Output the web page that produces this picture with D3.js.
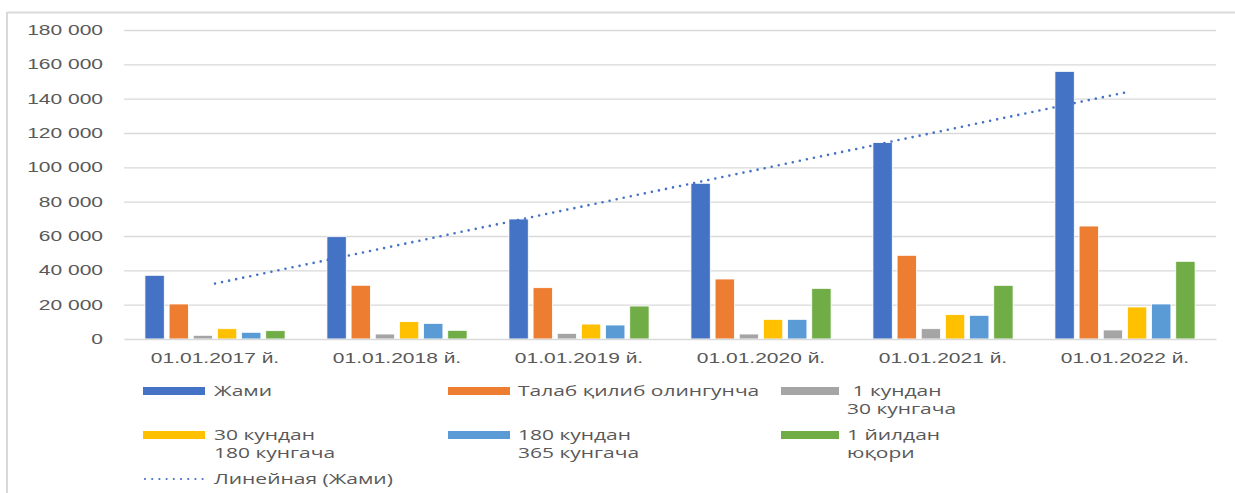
<!DOCTYPE html>
<html>
<head>
<meta charset="utf-8">
<script src="https://cdn.jsdelivr.net/npm/d3@7"></script>
<style>
  html, body { margin: 0; padding: 0; background: #fff; }
  svg { display: block; font-family: "Open Sans", "Liberation Sans", sans-serif; }
  text { fill: #595959; white-space: pre; }
</style>
</head>
<body>
<svg id="chart" width="1235" height="493"></svg>
<script>
// Deposits by maturity (values in the chart's units)
const categories = ["01.01.2017 й.", "01.01.2018 й.", "01.01.2019 й.", "01.01.2020 й.", "01.01.2021 й.", "01.01.2022 й."];
const seriesNames = ["Жами", "Талаб қилиб олингунча", " 1 кундан\n30 кунгача", "30 кундан\n180 кунгача", "180 кундан\n365 кунгача", "1 йилдан\nюқори"];
const total      = [37100, 59600, 69900, 90700, 114400, 155900];
const onDemand   = [20400, 31300, 29900, 34950, 48750, 65800];
const d1to30     = [2150, 2900, 3300, 2900, 6000, 5250];
const d30to180   = [6000, 10100, 8700, 11450, 14200, 18650];
const d180to365  = [3900, 9100, 8150, 11450, 13800, 20400];
const over1year  = [4850, 5050, 19200, 29500, 31250, 45250];
const yTicks = [0, 20000, 40000, 60000, 80000, 100000, 120000, 140000, 160000, 180000];
const trendName = "Линейная (Жами)";

const seriesValues = [total, onDemand, d1to30, d30to180, d180to365, over1year];
const colors = ["#4472C4", "#ED7D31", "#A5A5A5", "#FFC000", "#5B9BD5", "#70AD47"];

const SX = 1.5;           // horizontal text stretch
const FONT = 14;
const svg = d3.select("#chart");

// chart frame (top and left edges)
svg.append("line").attr("x1", 7).attr("x2", 1235).attr("y1", 12.5).attr("y2", 12.5)
  .attr("stroke", "#d9d9d9").attr("stroke-width", 2);
svg.append("line").attr("x1", 7).attr("x2", 7).attr("y1", 12).attr("y2", 493)
  .attr("stroke", "#d9d9d9").attr("stroke-width", 2);

const plotL = 124, plotR = 1216, plotT = 30, plotB = 339;

const x = d3.scaleBand().domain(categories).range([plotL, plotR])
  .paddingInner(0.23).paddingOuter(0.115);
const xs = d3.scaleBand().domain(d3.range(seriesValues.length)).range([0, x.bandwidth()])
  .paddingInner(0.2).paddingOuter(0);
const y = d3.scaleLinear().domain([0, 180000]).range([plotB, plotT]);

const fmt = d3.formatLocale({ thousands: " ", grouping: [3], decimal: ",", currency: ["", ""] }).format(",d");

// gridlines
const grid = svg.append("g").attr("transform", `translate(${plotL},0)`)
  .call(d3.axisLeft(y).tickValues(yTicks.filter(v => v > 0)).tickSize(-(plotR - plotL)).tickFormat(""));
grid.select(".domain").remove();
grid.selectAll("line").attr("stroke", "#d9d9d9").attr("stroke-width", 1.3);

// y axis labels
const yAxis = svg.append("g").attr("transform", `translate(${plotL},0)`)
  .call(d3.axisLeft(y).tickValues(yTicks).tickSize(0).tickPadding(14).tickFormat(fmt));
yAxis.select(".domain").remove();
yAxis.selectAll("text")
  .attr("font-family", null).attr("font-size", FONT).attr("fill", "#595959")
  .attr("transform", `scale(${SX},1)`);

// bars
const groups = svg.append("g").selectAll("g").data(categories).join("g")
  .attr("transform", d => `translate(${x(d)},0)`);
groups.selectAll("rect")
  .data((c, ci) => seriesValues.map((vals, si) => ({ si, v: vals[ci] })))
  .join("rect")
  .attr("x", d => xs(d.si))
  .attr("width", xs.bandwidth())
  .attr("y", d => y(d.v))
  .attr("height", d => y(0) - y(d.v))
  .attr("fill", d => colors[d.si])
  .attr("stroke", "#fff").attr("stroke-width", 0.8);

// x axis
const xAxis = svg.append("g").attr("transform", `translate(0,${plotB})`)
  .call(d3.axisBottom(x).tickSize(0).tickSizeOuter(0).tickPadding(14));
xAxis.select(".domain").attr("stroke", "#d9d9d9").attr("stroke-width", 1.3);
xAxis.selectAll("text")
  .attr("font-family", null).attr("font-size", FONT).attr("fill", "#595959")
  .attr("transform", `scale(${SX},1)`);

// linear trend of the total series
const n = total.length;
const xi = d3.range(1, n + 1);
const mx = d3.mean(xi), my = d3.mean(total);
const slope = d3.sum(xi, (v, i) => (v - mx) * (total[i] - my)) / d3.sum(xi, v => (v - mx) ** 2);
const icpt = my - slope * mx;
const trend = categories.map((c, i) => ({ c, v: icpt + slope * (i + 1) }));
svg.append("path")
  .datum([trend[0], trend[n - 1]])
  .attr("d", d3.line().x(d => x(d.c) + x.bandwidth() / 2).y(d => y(d.v)))
  .attr("fill", "none").attr("stroke", "#4472C4").attr("stroke-width", 2.6)
  .attr("stroke-linecap", "round").attr("stroke-dasharray", "0 7.2");

// legend
const colX = [143, 448, 781];
const swW = [62, 62, 58];
const txtX = [214, 518, 847];
const rowY = [391, 435];
const legend = svg.append("g");
seriesNames.forEach((name, i) => {
  const c = i % 3, cy = rowY[Math.floor(i / 3)];
  legend.append("rect").attr("x", colX[c]).attr("y", cy - 4).attr("width", swW[c]).attr("height", 8)
    .attr("fill", colors[i]);
  const lines = name.split("\n");
  lines.forEach((ln, k) => {
    legend.append("text")
      .attr("transform", `translate(${txtX[c]},${cy + 4.5 + k * 18}) scale(${SX},1)`)
      .attr("font-size", FONT)
      .text(ln);
  });
});
legend.append("line").attr("x1", 145).attr("x2", 203).attr("y1", 479).attr("y2", 479)
  .attr("stroke", "#4472C4").attr("stroke-width", 2.2)
  .attr("stroke-linecap", "round").attr("stroke-dasharray", "0 7.2");
legend.append("text")
  .attr("transform", `translate(214,484) scale(${SX},1)`)
  .attr("font-size", FONT)
  .text(trendName);
</script>
</body>
</html>
